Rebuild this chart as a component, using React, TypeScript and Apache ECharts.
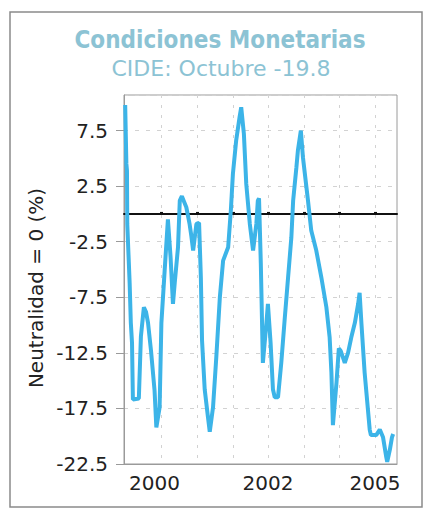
import React, { useEffect, useRef } from 'react';
import * as echarts from 'echarts';

// x position in months from the left edge of the plot, y value in %
const months = [
  0.4, 0.8, 1.0, 1.1, 1.9, 2.3, 2.7, 3.0, 5.0, 5.7, 6.7, 7.4, 8.1, 9.1, 10.3, 10.9,
  12.0, 12.6, 13.7, 14.8, 15.7, 16.5, 17.1, 18.2, 18.8, 19.5, 21.0, 22.1, 22.7, 23.3,
  24.4, 25.3, 25.9, 26.3, 27.2, 28.3, 28.9, 30.0, 31.1, 32.3, 33.4, 35.1, 36.0, 36.7,
  37.8, 39.0, 39.5, 40.4, 41.2, 42.4, 43.5, 44.6, 45.1, 45.5, 46.1, 46.8, 48.0, 48.5,
  49.4, 50.2, 50.8, 51.9, 53.0, 54.2, 55.3, 56.4, 57.0, 58.1, 58.6, 59.6, 60.3, 62.0,
  63.1, 64.8, 66.5, 68.2, 69.3, 69.9, 70.4, 71.6, 72.4, 73.0, 74.4, 75.5, 76.6, 77.8,
  78.9, 79.4, 80.0, 81.1, 82.2, 82.8, 83.2, 85.0, 86.2, 87.3, 88.4, 88.7, 89.6, 90.3,
  90.7,
];
const values = [
  9.8, 4.5, 3.9, -0.9, -6.2, -9.8, -11.6, -16.7, -16.6, -11.0, -8.4, -8.8, -9.8, -12.3, -15.9, -19.2,
  -17.4, -9.8, -5.1, -0.5, -3.9, -8.1, -6.2, -3.0, 1.2, 1.6, 0.6, -0.9, -2.0, -3.3,
  -0.9, -0.8, -5.7, -11.4, -15.8, -18.3, -19.6, -17.4, -12.9, -7.5, -4.2, -3.0, 0.3, 3.6,
  6.6, 8.8, 9.6, 7.2, 2.7, -0.9, -3.3, -0.9, 1.2, 1.4, -4.4, -13.4, -9.8, -8.1,
  -11.6, -15.8, -16.5, -16.5, -13.4, -9.3, -5.7, -2.1, 1.2, 4.2, 5.7, 7.5, 5.1, 1.2,
  -1.5, -3.3, -5.7, -8.4, -11.1, -14.3, -19.0, -15.2, -12.1, -12.3, -13.4, -12.5, -11.1, -9.8,
  -8.1, -7.1, -9.8, -14.3, -17.6, -19.4, -19.9, -19.9, -19.4, -20.1, -21.9, -22.3, -21.2, -20.1,
  -19.8,
];
const gridMonths = [12.7, 24.7, 36.7, 48.7, 60.7, 72.7, 84.7];
const xLabelMonths = [10.3, 48.5, 84.6];
const xLabels = ['2000', '2002', '2005'];
const xMin = 0;
const xMax = 92;
const yMin = -22.5;
const yMax = 10.7;
const yInterval = 5;
const titleText = 'Condiciones Monetarias';
const subtitleText = 'CIDE: Octubre -19.8';
const yAxisName = 'Neutralidad = 0 (%)';

export default function App() {
  const ref = useRef<HTMLDivElement>(null);
  useEffect(() => {
    document.body.style.margin = '0';
    const chart = echarts.init(ref.current!, null, { renderer: 'svg' });
    const titleColor = '#8cc3d4';
    chart.setOption({
      animation: false,
      backgroundColor: '#ffffff',
      grid: {
        left: 124,
        right: 32,
        top: 95,
        bottom: 48,
        show: true,
        borderColor: '#9a9a9a',
        borderWidth: 1,
        outerBoundsMode: 'none',
      },
      graphic: [
        {
          type: 'rect',
          shape: { x: 10, y: 12, width: 412, height: 495 },
          style: { fill: 'none', stroke: '#8a8a8a', lineWidth: 1.5 },
          silent: true,
          z: -1,
        },
        {
          type: 'text',
          x: 220,
          y: 40,
          style: {
            text: titleText,
            fill: titleColor,
            font: 'bold 24px "DejaVu Sans Condensed", "DejaVu Sans", sans-serif',
            align: 'center',
            verticalAlign: 'middle',
          },
        },
        {
          type: 'text',
          x: 221,
          y: 68,
          style: {
            text: subtitleText,
            fill: titleColor,
            font: '22px "DejaVu Sans", sans-serif',
            align: 'center',
            verticalAlign: 'middle',
          },
        },
        {
          type: 'text',
          x: 36,
          y: 288,
          rotation: Math.PI / 2,
          style: {
            text: yAxisName,
            fill: '#222222',
            font: '20px "DejaVu Sans", sans-serif',
            align: 'center',
            verticalAlign: 'middle',
          },
        },
      ],
      xAxis: [
        {
          type: 'value',
          min: xMin,
          max: xMax,
          position: 'bottom',
          axisLine: { show: true, onZero: false, lineStyle: { color: '#9a9a9a' } },
          axisTick: { show: false, customValues: gridMonths },
          splitLine: { show: true, lineStyle: { color: '#d2d2d2', type: [3, 7], width: 1 } },
          axisLabel: {
            customValues: xLabelMonths,
            formatter: (v: number) => {
              const i = xLabelMonths.findIndex((m) => Math.abs(m - v) < 1e-6);
              return i >= 0 ? xLabels[i] : '';
            },
            color: '#222222',
            fontFamily: 'DejaVu Sans',
            fontSize: 20,
            lineHeight: 20,
            margin: 9,
          },
        },
        {
          type: 'value',
          min: xMin,
          max: xMax,
          position: 'top',
          axisLine: { show: true, onZero: true, lineStyle: { color: '#111111', width: 2 } },
          axisTick: { show: true, customValues: gridMonths, length: 2, lineStyle: { color: '#111111', width: 3 } },
          axisLabel: { show: false },
          splitLine: { show: false },
        },
      ],
      yAxis: {
        type: 'value',
        min: yMin,
        max: yMax,
        interval: yInterval,
        axisLine: { show: true, onZero: false, lineStyle: { color: '#9a9a9a' } },
        axisTick: { show: true, length: 8, lineStyle: { color: '#9a9a9a' } },
        axisLabel: {
          showMaxLabel: false,
          color: '#222222',
          fontFamily: 'DejaVu Sans',
          fontSize: 20,
          margin: 16,
        },
        splitLine: { show: true, lineStyle: { color: '#d2d2d2', type: [4, 7], width: 1 } },
      },
      series: [
        {
          type: 'line',
          xAxisIndex: 0,
          data: months.map((m, i) => [m, values[i]]),
          showSymbol: false,
          symbol: 'none',
          lineStyle: { color: '#3cb4e8', width: 4 },
          z: 3,
        },
      ],
    });
    return () => chart.dispose();
  }, []);
  return <div ref={ref} style={{ width: 429, height: 512 }} />;
}
